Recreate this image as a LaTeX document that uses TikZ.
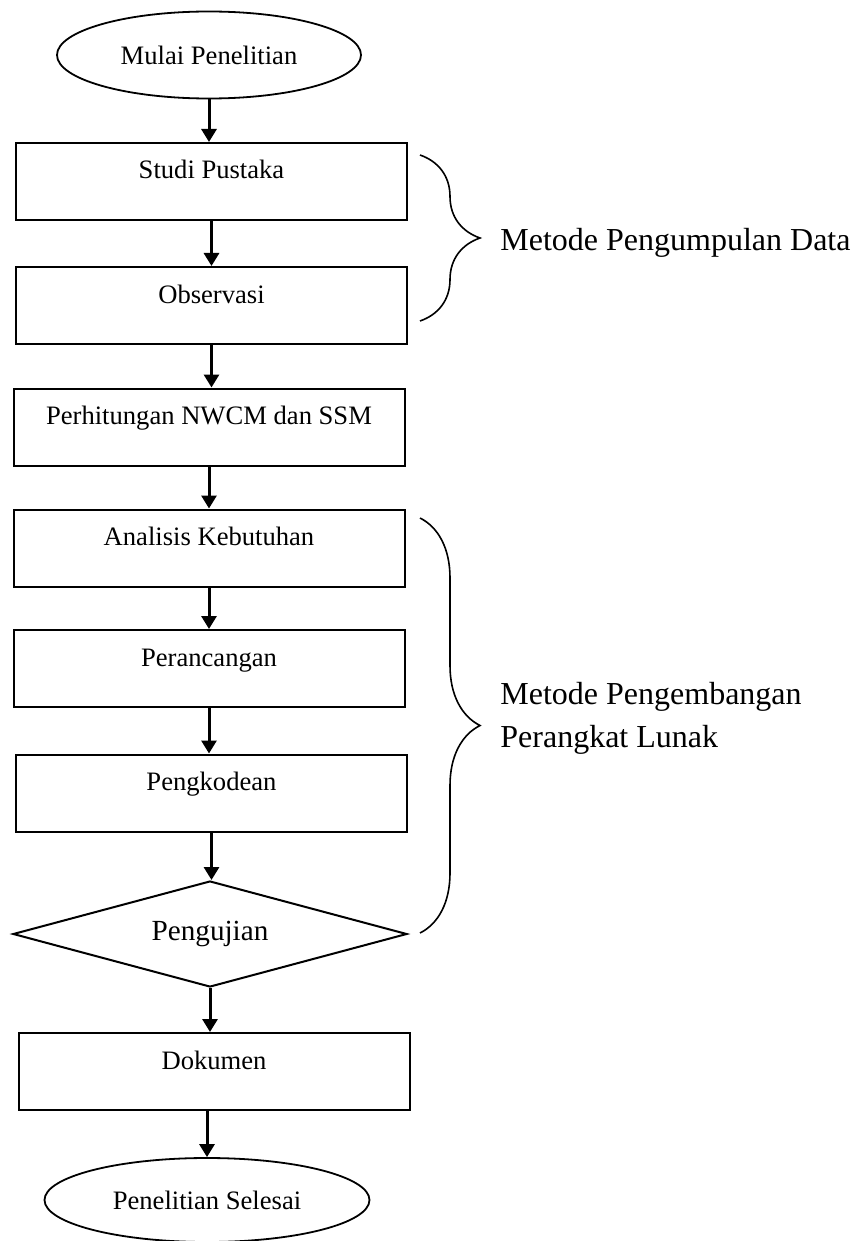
\documentclass[tikz,border=0pt]{standalone}
\usepackage{fontspec}
\setmainfont{Liberation Serif}
\usepackage{tikz}
\usetikzlibrary{arrows.meta,shapes.geometric,decorations.pathreplacing}
\tikzset{
  terminal/.style={ellipse,draw=black,line width=0.9pt,inner sep=0pt,
    font=\fontsize{13.3}{16}\selectfont},
  stepbox/.style={rectangle,draw=black,line width=1pt,minimum width=195.5pt,
    inner xsep=2pt,inner ysep=0pt,text height=18pt,text depth=20.5pt,
    font=\fontsize{13.3}{16}\selectfont},
  decision/.style={diamond,draw=black,line width=1pt,inner sep=0pt,shape aspect=3.7,
    minimum width=197pt,minimum height=53pt,font=\fontsize{14.6}{17}\selectfont},
  flow/.style={-{Triangle[width=7.5pt,length=6.5pt]},line width=1.5pt},
  bracket/.style={decorate,decoration={brace,amplitude=30pt},line width=0.8pt},
  bracelabel/.style={font=\fontsize{16}{21.5}\selectfont,align=left,inner sep=0pt}
}
\begin{document}
\begin{tikzpicture}[x=0.5pt,y=-0.5pt]
  \useasboundingbox (0,0) rectangle (861,1241);
  \node[terminal,minimum width=152pt,minimum height=43.5pt] (mulai) at (209,55) {Mulai Penelitian};
  \node[stepbox] (studi) at (211.5,181.5) {Studi Pustaka};
  \node[stepbox] (obs) at (211.5,305.5) {Observasi};
  \node[stepbox] (hitung) at (209,427) {Perhitungan NWCM dan SSM};
  \node[stepbox] (analisis) at (209,548) {Analisis Kebutuhan};
  \node[stepbox] (rancang) at (209,668.5) {Perancangan};
  \node[stepbox] (kode) at (211.5,793) {Pengkodean};
  \node[decision] (uji) at (210,934) {Pengujian};
  \node[stepbox] (dok) at (214,1071.5) {Dokumen};
  \node[terminal,minimum width=162.5pt,minimum height=42pt] (selesai) at (207,1200) {Penelitian Selesai};
  \draw[flow] (mulai.south) -- (mulai.south |- studi.north);
  \draw[flow] (studi.south) -- (studi.south |- obs.north);
  \draw[flow] (obs.south) -- (obs.south |- hitung.north);
  \draw[flow] (hitung.south) -- (hitung.south |- analisis.north);
  \draw[flow] (analisis.south) -- (analisis.south |- rancang.north);
  \draw[flow] (rancang.south) -- (rancang.south |- kode.north);
  \draw[flow] (kode.south) -- (kode.south |- uji.north);
  \draw[flow] (uji.south) -- (uji.south |- dok.north);
  \draw[flow] (selesai.north |- dok.south) -- (selesai.north);
  \coordinate (gTop) at (420,155);
  \coordinate (gBot) at (420,321);
  \draw[bracket] (gTop) -- (gBot);
  \node[bracelabel,anchor=base west] (gLabel) at (500,250) {Metode Pengumpulan Data};
  \coordinate (pTop) at (420,518);
  \coordinate (pBot) at (420,933);
  \draw[bracket] (pTop) -- (pBot);
  \node[bracelabel,anchor=west] (pLabel) at (500,718) {Metode Pengembangan\\Perangkat Lunak};
\end{tikzpicture}
\end{document}
